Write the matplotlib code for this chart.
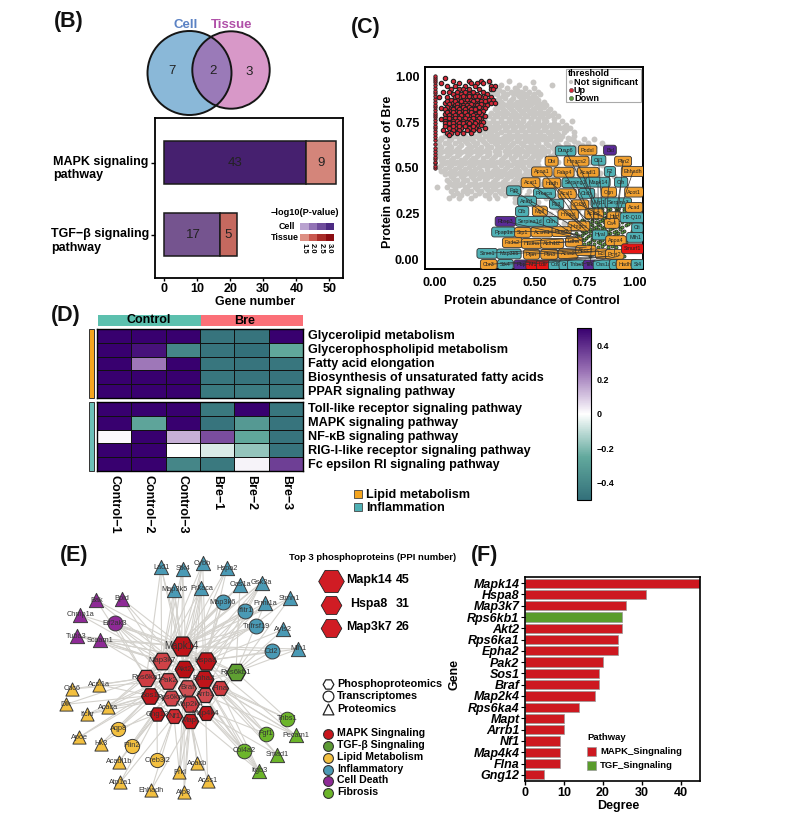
import matplotlib
matplotlib.use("Agg")
import matplotlib.pyplot as plt
from matplotlib.colors import LinearSegmentedColormap, Normalize
from matplotlib.patches import Circle, Rectangle

plt.rcParams["font.family"] = ["Liberation Sans", "DejaVu Sans"]
plt.rcParams["font.weight"] = "bold"

W, H = 807, 833

# ---- panel B
venn_labels = ["Cell", "Tissue"]
venn_counts = [7, 2, 3]
pathways = ["TGF\u2212\u03b2 signaling\npathway", "MAPK signaling\npathway"]
cell_genes = [17, 43]
tissue_genes = [5, 9]
cell_colors = ["#75548f", "#46206f"]
tissue_colors = ["#c5695f", "#d4857a"]
pval_ticks = ["1.5", "2.0", "2.5", "3.0"]
cell_key = ["#b9a2cf", "#9273b5", "#6f4d9b", "#4c2a82"]
tissue_key = ["#dd8f83", "#c9584f", "#a82c28", "#8b0d12"]

# ---- panel C
gray_rows = {
    0.975: [0.37], 0.965: [0.27, 0.49], 0.95: [0.33, 0.42, 0.59],
    0.935: [0.30, 0.36, 0.40, 0.45, 0.50], 0.915: [0.28, 0.34, 0.38, 0.43, 0.47, 0.52],
    0.90: [0.31, 0.36, 0.41, 0.46, 0.50, 0.53], 0.88: [0.32, 0.35, 0.39, 0.44, 0.48, 0.51],
    0.86: [0.33, 0.37, 0.41, 0.45, 0.50, 0.55], 0.84: [0.31, 0.36, 0.39, 0.43, 0.47, 0.52, 0.56],
    0.82: [0.30, 0.34, 0.38, 0.42, 0.45, 0.49, 0.53, 0.58], 0.80: [0.28, 0.33, 0.36, 0.40, 0.44, 0.48, 0.51, 0.55, 0.60],
    0.78: [0.27, 0.31, 0.35, 0.39, 0.42, 0.46, 0.50, 0.54, 0.57, 0.62], 0.755: [0.25, 0.29, 0.33, 0.37, 0.41, 0.44, 0.48, 0.52, 0.56, 0.64, 0.69],
    0.735: [0.26, 0.30, 0.34, 0.38, 0.42, 0.46, 0.50, 0.53, 0.58, 0.62, 0.66],
    0.715: [0.22, 0.27, 0.31, 0.35, 0.39, 0.43, 0.47, 0.51, 0.55, 0.59, 0.63, 0.68],
    0.695: [0.12, 0.18, 0.24, 0.28, 0.33, 0.37, 0.41, 0.45, 0.49, 0.53, 0.57, 0.61, 0.65, 0.70],
    0.675: [0.05, 0.10, 0.15, 0.20, 0.25, 0.29, 0.35, 0.39, 0.43, 0.47, 0.51, 0.55, 0.60, 0.64, 0.70],
    0.655: [0.03, 0.08, 0.13, 0.18, 0.23, 0.27, 0.32, 0.37, 0.41, 0.45, 0.50, 0.54, 0.58, 0.63, 0.68, 0.75, 0.80],
    0.635: [0.05, 0.10, 0.16, 0.21, 0.25, 0.30, 0.34, 0.39, 0.43, 0.48, 0.52, 0.56, 0.60, 0.66, 0.72, 0.77, 0.84],
    0.615: [0.03, 0.08, 0.12, 0.18, 0.23, 0.28, 0.33, 0.37, 0.41, 0.46, 0.50, 0.54, 0.59, 0.63, 0.70, 0.75, 0.80],
    0.595: [0.05, 0.10, 0.15, 0.20, 0.25, 0.30, 0.35, 0.39, 0.44, 0.48, 0.53, 0.57, 0.70, 0.76],
    0.575: [0.02, 0.07, 0.12, 0.17, 0.22, 0.27, 0.32, 0.37, 0.42, 0.46, 0.51, 0.55, 0.60, 0.66],
    0.555: [0.04, 0.09, 0.15, 0.19, 0.24, 0.29, 0.34, 0.38, 0.43, 0.48, 0.52, 0.68, 0.76],
    0.535: [0.06, 0.11, 0.17, 0.22, 0.26, 0.31, 0.36, 0.41, 0.45, 0.50, 0.62, 0.78],
    0.515: [0.03, 0.08, 0.13, 0.19, 0.24, 0.28, 0.33, 0.38, 0.43, 0.47, 0.52, 0.60, 0.72, 0.84],
    0.495: [0.05, 0.10, 0.15, 0.20, 0.26, 0.31, 0.35, 0.40, 0.45, 0.49, 0.56, 0.62, 0.70, 0.80],
    0.475: [0.07, 0.12, 0.17, 0.22, 0.27, 0.32, 0.37, 0.42, 0.47, 0.58, 0.72, 0.83],
    0.455: [0.08, 0.13, 0.18, 0.24, 0.28, 0.33, 0.38, 0.43, 0.48, 0.52, 0.60, 0.69, 0.78, 0.90],
    0.435: [0.06, 0.11, 0.16, 0.20, 0.25, 0.30, 0.35, 0.40, 0.44, 0.52, 0.62, 0.75, 0.86],
    0.415: [0.08, 0.13, 0.18, 0.23, 0.27, 0.32, 0.37, 0.41, 0.46, 0.54, 0.64, 0.72, 0.80, 0.92],
    0.395: [0.01, 0.06, 0.10, 0.15, 0.20, 0.25, 0.29, 0.34, 0.39, 0.43, 0.52, 0.60, 0.72, 0.84],
    0.375: [0.08, 0.14, 0.18, 0.23, 0.28, 0.32, 0.36, 0.42, 0.47, 0.58, 0.68, 0.76, 0.86],
    0.355: [0.09, 0.13, 0.20, 0.25, 0.30, 0.35, 0.41, 0.46, 0.60, 0.70, 0.80, 0.90],
    0.335: [0.07, 0.12, 0.18, 0.27, 0.31, 0.40, 0.48, 0.56, 0.64, 0.72, 0.84],
    0.315: [0.40, 0.45, 0.52, 0.62, 0.70, 0.78, 0.86],
    0.29: [0.44, 0.50, 0.60, 0.68, 0.76], 0.27: [0.55, 0.62, 0.72, 0.82],
    0.25: [0.58, 0.66, 0.76], 0.225: [0.60, 0.70], 0.20: [0.65, 0.72],
}
gray_rows_b = {
    0.925: [0.32, 0.41], 0.905: [0.30, 0.39, 0.44], 0.89: [0.34, 0.42, 0.46, 0.49],
    0.87: [0.31, 0.38, 0.43, 0.47, 0.52], 0.85: [0.34, 0.40, 0.44, 0.48, 0.53], 0.83: [0.32, 0.37, 0.41, 0.46, 0.51, 0.55],
    0.81: [0.31, 0.35, 0.39, 0.43, 0.47, 0.50, 0.53, 0.57], 0.79: [0.30, 0.34, 0.38, 0.41, 0.45, 0.49, 0.53, 0.59],
    0.768: [0.29, 0.33, 0.37, 0.40, 0.44, 0.48, 0.52, 0.55, 0.60], 0.745: [0.27, 0.31, 0.35, 0.39, 0.43, 0.47, 0.51, 0.55, 0.60],
    0.725: [0.24, 0.28, 0.32, 0.36, 0.40, 0.44, 0.49, 0.52, 0.56, 0.61, 0.65], 0.705: [0.20, 0.26, 0.30, 0.35, 0.39, 0.43, 0.47, 0.51, 0.55, 0.59, 0.66],
    0.685: [0.08, 0.14, 0.22, 0.27, 0.31, 0.37, 0.41, 0.45, 0.49, 0.53, 0.58, 0.62],
    0.665: [0.03, 0.07, 0.12, 0.17, 0.22, 0.27, 0.30, 0.34, 0.38, 0.42, 0.46, 0.49, 0.53, 0.57, 0.62, 0.67],
    0.645: [0.02, 0.07, 0.12, 0.15, 0.19, 0.24, 0.28, 0.32, 0.36, 0.41, 0.45, 0.47, 0.51, 0.56, 0.61, 0.70],
    0.625: [0.02, 0.07, 0.13, 0.17, 0.20, 0.26, 0.31, 0.35, 0.38, 0.44, 0.48, 0.52, 0.57, 0.62, 0.67, 0.74],
    0.605: [0.01, 0.06, 0.11, 0.16, 0.21, 0.26, 0.31, 0.36, 0.40, 0.43, 0.47, 0.51, 0.55, 0.60, 0.65, 0.72],
    0.585: [0.03, 0.08, 0.13, 0.18, 0.23, 0.27, 0.32, 0.37, 0.41, 0.46, 0.50, 0.55, 0.63],
    0.565: [0.02, 0.06, 0.11, 0.16, 0.21, 0.26, 0.30, 0.35, 0.40, 0.45, 0.49, 0.53, 0.58],
    0.545: [0.03, 0.08, 0.13, 0.18, 0.20, 0.24, 0.28, 0.33, 0.39, 0.43, 0.47, 0.52],
    0.525: [0.05, 0.10, 0.15, 0.20, 0.23, 0.29, 0.34, 0.36, 0.40, 0.44, 0.48],
    0.505: [0.02, 0.07, 0.12, 0.17, 0.22, 0.26, 0.30, 0.36, 0.41, 0.44, 0.50],
    0.485: [0.03, 0.08, 0.13, 0.18, 0.23, 0.29, 0.33, 0.38, 0.42, 0.47, 0.52],
    0.465: [0.05, 0.10, 0.15, 0.20, 0.25, 0.30, 0.35, 0.40, 0.45, 0.50],
    0.445: [0.09, 0.14, 0.19, 0.22, 0.26, 0.31, 0.36, 0.41, 0.46, 0.50],
    0.425: [0.07, 0.10, 0.14, 0.20, 0.25, 0.29, 0.34, 0.39, 0.43],
    0.405: [0.09, 0.12, 0.17, 0.22, 0.27, 0.31, 0.36, 0.40],
    0.385: [0.10, 0.16, 0.21, 0.26, 0.30, 0.34, 0.39],
    0.365: [0.11, 0.16, 0.22, 0.27, 0.33, 0.38],
}
red_x0_y = [0.50, 0.51, 0.525, 0.535, 0.55, 0.56, 0.575, 0.59, 0.61, 0.63, 0.65, 0.67, 0.685, 0.70, 0.715,
            0.73, 0.745, 0.76, 0.775, 0.79, 0.80, 0.815, 0.83, 0.845, 0.86, 0.875, 0.89, 0.905, 0.92,
            0.935, 0.95, 0.965, 0.98, 0.99, 1.00]
red_rows = {
    0.99: [0.05], 0.975: [0.09, 0.17, 0.23, 0.27], 0.96: [0.03, 0.12, 0.18, 0.21, 0.24],
    0.945: [0.06, 0.10, 0.15, 0.20, 0.28, 0.30], 0.93: [0.08, 0.12, 0.14, 0.17, 0.22, 0.28, 0.29],
    0.915: [0.04, 0.07, 0.11, 0.15, 0.19, 0.24], 0.90: [0.09, 0.13, 0.17, 0.21, 0.26],
    0.885: [0.02, 0.06, 0.10, 0.12, 0.15, 0.19, 0.23, 0.25, 0.28], 0.87: [0.08, 0.11, 0.14, 0.16, 0.18, 0.21, 0.27, 0.29],
    0.855: [0.05, 0.09, 0.12, 0.15, 0.17, 0.20, 0.22, 0.25, 0.28, 0.30], 0.84: [0.10, 0.13, 0.14, 0.16, 0.19, 0.21, 0.24, 0.26],
    0.825: [0.03, 0.07, 0.09, 0.12, 0.15, 0.18, 0.20, 0.23, 0.25], 0.81: [0.08, 0.10, 0.13, 0.16, 0.19, 0.21, 0.24],
    0.795: [0.05, 0.07, 0.11, 0.14, 0.17, 0.20, 0.23], 0.78: [0.09, 0.12, 0.15, 0.18, 0.21, 0.25],
    0.765: [0.03, 0.06, 0.08, 0.11, 0.14, 0.17, 0.20, 0.23], 0.75: [0.07, 0.10, 0.13, 0.16, 0.19, 0.22, 0.24],
    0.735: [0.08, 0.11, 0.15, 0.18, 0.21, 0.23], 0.72: [0.07, 0.10, 0.13, 0.17, 0.20, 0.25],
    0.705: [0.04, 0.09, 0.12, 0.16, 0.19, 0.22], 0.69: [0.06, 0.08, 0.11, 0.14, 0.18], 0.68: [0.07],
}
red_rows_b = {
    0.89: [0.11, 0.14, 0.17, 0.20, 0.22], 0.865: [0.06, 0.10, 0.13, 0.19, 0.23, 0.25], 0.848: [0.07, 0.11, 0.18, 0.23],
    0.832: [0.06, 0.11, 0.14, 0.17, 0.22], 0.818: [0.05, 0.09, 0.12, 0.15, 0.18, 0.20], 0.802: [0.06, 0.09, 0.12, 0.15, 0.18, 0.22],
    0.787: [0.07, 0.10, 0.13, 0.16, 0.19], 0.772: [0.05, 0.07, 0.10, 0.12, 0.15, 0.19, 0.22], 0.757: [0.05, 0.09, 0.11, 0.14, 0.18, 0.21],
    0.742: [0.05, 0.07, 0.09, 0.12, 0.14, 0.17, 0.20], 0.727: [0.05, 0.09, 0.12, 0.15, 0.19],
}
green_rows = {
    0.295: [0.82, 0.86, 0.90], 0.275: [0.78, 0.84, 0.88, 0.92, 0.95], 0.255: [0.80, 0.85, 0.89, 0.93, 0.97],
    0.235: [0.76, 0.82, 0.86, 0.91, 0.94], 0.22: [0.74, 0.79, 0.84, 0.88, 0.92, 0.96], 0.205: [0.73, 0.77, 0.81, 0.85, 0.90, 0.94, 0.98],
    0.19: [0.75, 0.79, 0.83, 0.87, 0.92, 0.96], 0.175: [0.72, 0.76, 0.80, 0.84, 0.89, 0.93], 0.16: [0.74, 0.78, 0.82, 0.86, 0.91, 0.95, 0.99],
    0.145: [0.71, 0.75, 0.80, 0.84, 0.88, 0.92], 0.13: [0.72, 0.77, 0.81, 0.86, 0.90, 0.94], 0.115: [0.70, 0.74, 0.79, 0.83, 0.87, 0.97],
    0.10: [0.73, 0.78, 0.82, 0.86, 0.96], 0.085: [0.71, 0.75, 0.80, 0.85, 0.89, 0.93], 0.07: [0.72, 0.77, 0.82, 0.87, 0.91],
    0.055: [0.80, 0.84, 0.88], 0.04: [0.82, 0.86, 0.90], 0.02: [0.78, 0.84, 0.90, 0.95],
}
green_rows_b = {
    0.285: [0.80, 0.83, 0.87, 0.91], 0.265: [0.77, 0.82, 0.87, 0.91, 0.95], 0.245: [0.78, 0.83, 0.87, 0.91, 0.95],
    0.228: [0.77, 0.81, 0.85, 0.89, 0.93, 0.97], 0.212: [0.75, 0.79, 0.83, 0.87, 0.91, 0.96], 0.197: [0.78, 0.82, 0.86, 0.88, 0.92, 0.97],
    0.182: [0.77, 0.81, 0.85, 0.90, 0.94], 0.168: [0.78, 0.82, 0.85, 0.88, 0.93], 0.152: [0.76, 0.80, 0.83, 0.87, 0.90, 0.94],
    0.138: [0.74, 0.78, 0.83, 0.87, 0.91], 0.122: [0.76, 0.80, 0.85, 0.89], 0.108: [0.75, 0.80, 0.84, 0.88],
    0.092: [0.77, 0.83, 0.87], 0.078: [0.78, 0.84, 0.89],
}
# label, control, bre, group (o = lipid, t = inflammation, p = cell death, r = mapk)
volcano_labels = [
    ("Dusp6", .656, .593, "t"), ("Podxl", .767, .597, "o"), ("Bid", .879, .597, "p"), ("Dbi", .586, .537, "o"),
    ("Hmgcs2", .711, .537, "o"), ("Cfl1", .822, .542, "t"), ("Plin2", .945, .537, "o"), ("Apoa1", .537, .479, "o"),
    ("Fabp4", .648, .477, "o"), ("Acadl1", .770, .477, "o"), ("F2", .879, .481, "t"), ("Ehhadh", .995, .481, "o"),
    ("Acat1", .480, .420, "o"), ("Hadh", .587, .418, "o"), ("Serping1", .705, .420, "t"), ("Mapk14", .819, .423, "t"),
    ("Cfh", .935, .423, "t"), ("Fgb", .396, .376, "t"), ("Prkaca", .550, .362, "t"), ("Acsl1", .664, .360, "o"),
    ("Ctsb", .762, .362, "t"), ("Ogn", .874, .369, "o"), ("Acot1", 1.0, .369, "o"), ("Anln1", .463, .320, "t"),
    ("F13", .611, .304, "t"), ("Cd36", .728, .300, "o"), ("Nrp1", .826, .311, "t"), ("Serpina3", .921, .311, "t"),
    ("Acad", 1.0, .286, "o"), ("Cfb", .438, .264, "t"), ("Mgll", .527, .266, "o"), ("Hmgcl", .669, .246, "o"),
    ("Acat2", .800, .251, "o"), ("Hsp", .901, .235, "o"), ("Rbsp3", .354, .210, "p"), ("Serpina1d", .480, .210, "t"),
    ("Cttn", .581, .210, "t"), ("Hmgcs", .723, .184, "o"), ("Ca4", .888, .199, "o"), ("H2-Q10", .990, .230, "t"),
    ("Cfi", 1.017, .174, "t"), ("Ppap1a", .344, .152, "t"), ("Srp1", .441, .150, "o"), ("Acsm1", .537, .152, "o"),
    ("Pecr2", .636, .154, "o"), ("Mlh1", 1.005, .123, "t"), ("Hyal", .829, .136, "t"), ("Fads2", .389, .094, "o"),
    ("Hadha", .487, .090, "o"), ("Aldh1l2", .589, .090, "o"), ("Ldha", .698, .098, "o"), ("Apoa4", .909, .105, "o"),
    ("Stmn1", .262, .036, "t"), ("Map3k5", .372, .033, "t"), ("Ptpn", .485, .031, "o"), ("Plin3", .574, .031, "o"),
    ("Acss2", .669, .033, "o"), ("Apoc1", .758, .051, "o"), ("Eci", .837, .034, "o"), ("Pcyt2", .903, .031, "o"),
    ("Smurf1", .993, .061, "r"), ("Cbr3", .270, -.024, "o"), ("Stk4", .354, -.024, "t"), ("Pbp", .433, -.027, "p"),
    ("Nf1", .490, -.027, "r"), ("Ldlr", .545, -.027, "r"), ("Cd9", .607, -.027, "t"), ("Gng", .661, -.027, "t"),
    ("Thbs1", .715, -.027, "t"), ("Tek", .779, -.027, "p"), ("Oas1a", .847, -.027, "t"), ("Cd2", .913, -.024, "t"),
    ("Hadhb", .963, -.024, "o"), ("St4", 1.018, -.024, "t"),
]
volcano_links = {
    "Fgb": (.76, .14), "Prkaca": (.78, .16), "Anln1": (.74, .10), "Mapk14": (.82, .18), "Cfh": (.90, .20),
    "Ehhadh": (.92, .24), "F2": (.86, .22), "Cfl1": (.84, .26), "Plin2": (.92, .26), "Acadl1": (.80, .22),
    "Serping1": (.80, .20), "Apoa1": (.76, .22), "Fabp4": (.78, .24), "Hmgcs2": (.82, .28), "Acat1": (.72, .20),
    "Hadh": (.74, .18), "Acsl1": (.76, .20), "Ppap1a": (.72, .16), "Stmn1": (.76, .07), "Map3k5": (.74, .06),
    "Ptpn": (.80, .06), "Plin3": (.82, .05), "Acss2": (.86, .05), "Serpina1d": (.72, .13), "Rbsp3": (.72, .12),
    "Pcyt2": (.90, .10), "Cbr3": (.80, .02), "Stk4": (.86, .02), "Pbp": (.88, .02), "Thbs1": (.92, .02),
    "Tek": (.80, .28), "Hadha": (.72, .10), "Fads2": (.70, .12), "Aldh1l2": (.74, .11), "Acsm1": (.73, .14),
    "Pecr2": (.74, .13), "Cd36": (.84, .24), "Acat2": (.88, .22), "Hmgcl": (.78, .14), "Dusp6": (.80, .30),
}

# ---- panel D
control_names = ["Control\u22121", "Control\u22122", "Control\u22123"]
bre_names = ["Bre\u22121", "Bre\u22122", "Bre\u22123"]
lipid_terms = ["Glycerolipid metabolism", "Glycerophospholipid metabolism", "Fatty acid elongation",
               "Biosynthesis of unsaturated fatty acids", "PPAR signaling pathway"]
inflam_terms = ["Toll-like receptor signaling pathway", "MAPK signaling pathway", "NF-\u03baB signaling pathway",
                "RIG-I-like receptor signaling pathway", "Fc epsilon RI signaling pathway"]
lipid_vals = [[.50, .50, .50, -.48, -.48, .50],
              [.50, .46, -.40, -.48, -.50, -.26],
              [.50, .24, .50, -.47, -.48, -.47],
              [.50, .50, .50, -.47, -.48, -.48],
              [.50, .50, .50, -.46, -.45, -.46]]
inflam_vals = [[.50, .50, .50, -.46, .50, -.47],
               [.50, -.27, .50, -.48, -.32, -.48],
               [.01, .50, .14, .33, -.26, -.48],
               [.50, .50, 0, -.06, -.17, -.48],
               [.50, .50, -.40, -.46, .02, .36]]

# ---- panel E: hubs with degree (from panel F), outer proteins by pathway
genes = ["Mapk14", "Hspa8", "Map3k7", "Rps6kb1", "Akt2", "Rps6ka1", "Epha2", "Pak2", "Sos1", "Braf",
         "Map2k4", "Rps6ka4", "Mapt", "Arrb1", "Nf1", "Map4k4", "Flna", "Gng12"]
degree = [45, 31, 26, 25, 25, 24, 24, 20, 19, 19, 18, 14, 10, 10, 9, 9, 9, 5]
gene_pathway = ["MAPK", "MAPK", "MAPK", "TGF"] + ["MAPK"] * 14
inflam_tri = ["Lad1", "Stk4", "Cybb", "Hspa2", "Map3k5", "Prkaca", "Oas1a", "Gsk3a", "Prmt1a", "Stmn1", "Ayls2", "Mlh1"]
inflam_cir = ["Map3k6", "Ifitr1", "Tnfrsf19", "Cd2"]
death_tri = ["Bak", "Bpid", "Chmp1a", "Tuba3", "Scaam1"]
death_cir = ["Eif2ak3"]
lipid_tri = ["Cdc6", "Acsl1a", "Dlk", "Acaca", "Ifckr", "Apoe", "Hk3", "Acadl1b", "Atp1a1", "Ehhadh", "Atp8", "Acss1", "Prkl", "Acacb"]
lipid_cir = ["Aqp8", "Plin2", "Creb3l2"]
fibro_tri = ["Pecam1", "Smad1", "Itgb3"]
fibro_cir = ["Thbs1", "Fgf1", "Col4a2"]

interactions = {
    "Lad1": "Mapk14 Map3k7 Akt2 Rps6ka1", "Stk4": "Mapk14 Map3k7 Pak2 Braf", "Cybb": "Mapk14 Akt2 Hspa8 Map3k7",
    "Hspa2": "Hspa8 Mapk14 Rps6ka4", "Map3k5": "Mapk14 Map3k7 Map2k4 Pak2 Akt2", "Prkaca": "Mapk14 Akt2 Braf Map3k7 Epha2 Mapt",
    "Oas1a": "Mapk14 Rps6kb1 Map3k7", "Gsk3a": "Mapk14 Akt2 Hspa8 Mapt Rps6ka1 Map2k4", "Prmt1a": "Mapk14 Hspa8 Akt2 Rps6kb1",
    "Stmn1": "Mapk14 Hspa8 Rps6kb1", "Ayls2": "Rps6kb1 Hspa8", "Mlh1": "Rps6kb1 Mapk14 Hspa8",
    "Map3k6": "Mapk14 Map3k7 Map2k4 Hspa8", "Ifitr1": "Mapk14 Akt2 Map3k7", "Tnfrsf19": "Map3k7 Mapk14 Rps6ka1", "Cd2": "Rps6kb1 Hspa8 Mapk14",
    "Bak": "Mapk14 Akt2 Rps6ka1", "Bpid": "Mapk14 Map3k7 Akt2", "Chmp1a": "Map3k7 Mapk14", "Tuba3": "Mapk14 Map3k7 Hspa8",
    "Scaam1": "Mapk14 Map3k7 Hspa8 Akt2 Pak2", "Eif2ak3": "Mapk14 Map3k7 Akt2 Rps6ka1 Pak2 Hspa8",
    "Cdc6": "Rps6ka1 Pak2", "Acsl1a": "Rps6ka1 Sos1", "Dlk": "Sos1 Rps6ka1", "Acaca": "Rps6ka1 Akt2 Rps6ka4 Sos1 Map3k7",
    "Ifckr": "Sos1 Rps6ka4 Akt2", "Apoe": "Sos1 Akt2", "Hk3": "Rps6ka4 Sos1", "Acadl1b": "Gng12 Akt2", "Atp1a1": "Nf1 Gng12",
    "Ehhadh": "Nf1 Mapt", "Atp8": "Mapt Map2k4 Akt2", "Acss1": "Mapt Map4k4", "Prkl": "Nf1 Mapt Braf Akt2", "Acacb": "Akt2 Mapt Map2k4",
    "Aqp8": "Sos1 Akt2 Gng12", "Plin2": "Gng12 Rps6ka4 Akt2", "Creb3l2": "Nf1 Gng12",
    "Pecam1": "Hspa8 Epha2 Flna Arrb1", "Smad1": "Epha2 Map4k4 Flna", "Itgb3": "Akt2 Flna Map4k4 Epha2 Rps6ka1",
    "Thbs1": "Epha2 Rps6kb1 Flna", "Fgf1": "Epha2 Map2k4 Hspa8 Flna", "Col4a2": "Akt2 Epha2 Map4k4 Map3k7 Arrb1",
    "Mapk14": "Map3k7 Hspa8 Akt2 Epha2 Pak2 Braf Rps6ka1 Rps6kb1 Sos1 Flna Map2k4", "Hspa8": "Akt2 Epha2 Braf Rps6kb1",
    "Rps6ka1": "Pak2 Akt2 Rps6ka4 Map3k7", "Rps6kb1": "Akt2 Epha2 Flna Arrb1 Map4k4 Braf", "Sos1": "Pak2 Rps6ka4 Map2k4 Nf1",
}

layout_nodes = {
    "Lad1": (363, 82), "Stk4": (428, 87), "Cybb": (488, 70), "Hspa2": (561, 84), "Map3k5": (402, 149), "Prkaca": (484, 144),
    "Oas1a": (600, 135), "Gsk3a": (665, 128), "Prmt1a": (675, 190), "Stmn1": (749, 175), "Ayls2": (730, 268), "Mlh1": (774, 327),
    "Map3k6": (548, 187), "Ifitr1": (615, 212), "Tnfrsf19": (648, 259), "Cd2": (695, 334),
    "Bak": (169, 181), "Bpid": (246, 177), "Chmp1a": (121, 225), "Tuba3": (110, 288), "Scaam1": (181, 301), "Eif2ak3": (224, 250),
    "Cdc6": (97, 447), "Acsl1a": (176, 434), "Dlk": (78, 493), "Acaca": (204, 502), "Ifckr": (141, 523), "Apoe": (117, 592),
    "Hk3": (184, 611), "Acadl1b": (237, 665), "Atp1a1": (241, 727), "Ehhadh": (334, 750), "Atp8": (432, 757), "Acss1": (503, 722),
    "Prkl": (418, 697), "Acacb": (472, 670), "Aqp8": (235, 567), "Plin2": (276, 617), "Creb3l2": (352, 660),
    "Pecam1": (767, 586), "Smad1": (711, 644), "Itgb3": (657, 693), "Thbs1": (741, 536), "Fgf1": (678, 581), "Col4a2": (612, 633),
    "Mapk14": (425, 318), "Map3k7": (365, 362), "Hspa8": (497, 362), "Akt2": (433, 388), "Epha2": (492, 416), "Rps6ka1": (319, 413),
    "Pak2": (384, 422), "Braf": (441, 443), "Flna": (539, 445), "Arrb1": (495, 465), "Sos1": (329, 467), "Rps6ka4": (394, 473),
    "Map2k4": (449, 492), "Map4k4": (497, 520), "Gng12": (351, 522), "Nf1": (402, 528), "Mapt": (451, 543), "Rps6kb1": (588, 396),
}
hub_fill = {"Mapk14": "#bf1319", "Map3k7": "#cf4247", "Hspa8": "#bf1319", "Akt2": "#b80f14", "Epha2": "#c0141a", "Rps6ka1": "#cf3c42",
            "Pak2": "#d0444a", "Braf": "#cf5054", "Flna": "#cf3a40", "Arrb1": "#d04a50", "Sos1": "#c1171d", "Rps6ka4": "#d0444a",
            "Map2k4": "#cf3c42", "Map4k4": "#c3141a", "Gng12": "#c3141a", "Nf1": "#cf2a30", "Mapt": "#c3141a", "Rps6kb1": "#5fa032"}

fig = plt.figure(figsize=(W / 100, H / 100), dpi=100)


def px_axes(left, top, right, bottom):
    return fig.add_axes([left / W, 1 - bottom / H, (right - left) / W, (bottom - top) / H])


ov = px_axes(0, 0, W, H)
ov.set_xlim(0, W)
ov.set_ylim(H, 0)
ov.axis("off")
ov.set_zorder(10)
ov.patch.set_alpha(0)

for letter, lx, ly in [("(B)", 54, 21), ("(C)", 351, 27), ("(D)", 51, 316), ("(E)", 60, 556), ("(F)", 471, 556)]:
    ov.text(lx, ly, letter, fontsize=15.5, va="center", ha="left", color="#111111")

# venn
c1 = Circle((189.5, 73), 42, fc="#8ab8d8", ec="none")
c2 = Circle((231, 70), 38.7, fc="#d898c8", ec="none")
ov.add_patch(c1)
ov.add_patch(c2)
overlap = Circle((231, 70), 38.7, fc="#9a7ab8", ec="none")
ov.add_patch(overlap)
overlap.set_clip_path(Circle((189.5, 73), 42, transform=ov.transData))
ov.add_patch(Circle((189.5, 73), 42, fc="none", ec="#151515", lw=1.4))
ov.add_patch(Circle((231, 70), 38.7, fc="none", ec="#151515", lw=1.4))
ov.text(186, 25, venn_labels[0], color="#5b82c4", fontsize=9.5, ha="center", va="center")
ov.text(232, 25, venn_labels[1], color="#b050a8", fontsize=9.5, ha="center", va="center")
for n, vx, vy in zip(venn_counts, [172, 213, 249], [71, 71, 72]):
    ov.text(vx, vy, str(n), fontsize=9.5, ha="center", va="center", fontweight="normal", color="#222222")

# B bars
ax_b = px_axes(155, 118, 343, 278)
ax_b.barh([0, 1], cell_genes, height=0.6, color=cell_colors, edgecolor="#1a1a1a", linewidth=1.1)
ax_b.barh([0, 1], tissue_genes, left=cell_genes, height=0.6, color=tissue_colors, edgecolor="#1a1a1a", linewidth=1.1)
for i in range(2):
    ax_b.text(cell_genes[i] / 2 + (0.5 if i == 0 else 0), i, str(cell_genes[i]), ha="center", va="center",
              fontsize=9.5, fontweight="normal", color="#222222")
    ax_b.text(cell_genes[i] + tissue_genes[i] / 2, i, str(tissue_genes[i]), ha="center", va="center", fontsize=9.5,
              fontweight="normal", color="#222222")
ax_b.set_xlim(-2.7, 54.1)
ax_b.set_ylim(-0.604, 1.618)
ax_b.set_yticks([0, 1])
ax_b.set_yticklabels([])
ax_b.set_xticks([0, 10, 20, 30, 40, 50])
ax_b.tick_params(axis="x", labelsize=9, length=2.5, width=1, pad=1)
ax_b.tick_params(axis="y", length=3, width=1)
for s in ax_b.spines.values():
    s.set_linewidth(1.3)
ov.text(53, 168.5, pathways[1], fontsize=9, ha="left", va="center", linespacing=1.15)
ov.text(51, 241, pathways[0], fontsize=9, ha="left", va="center", linespacing=1.15)
ov.text(255, 302, "Gene number", fontsize=9, ha="center", va="center")
ov.text(305, 212, "\u2212log10(P-value)", fontsize=6.6, ha="center", va="center")
ov.text(295, 226, "Cell", fontsize=6.4, ha="right", va="center")
ov.text(299, 237, "Tissue", fontsize=6.4, ha="right", va="center")
for k in range(4):
    ov.add_patch(Rectangle((300 + k * 8.5, 222.5), 8.5, 7, fc=cell_key[k], ec="none"))
    ov.add_patch(Rectangle((300 + k * 8.5, 233.5), 8.5, 7, fc=tissue_key[k], ec="none"))
    ov.text(304 + k * 8.5, 248, pval_ticks[k], fontsize=5.5, rotation=270, ha="center", va="center")

# C scatter
ax_c = px_axes(425, 67, 643, 269)
gx, gy = [], []
for rows in (gray_rows, gray_rows_b):
    for yy, xs in rows.items():
        gx += xs
        gy += [yy] * len(xs)
ax_c.scatter(gx, gy, s=18, color="#c9c7c4", linewidths=0, zorder=1)
ux, uy = [0] * len(red_x0_y), list(red_x0_y)
for rows in (red_rows, red_rows_b):
    for yy, xs in rows.items():
        ux += xs
        uy += [yy] * len(xs)
ax_c.scatter(ux[:len(red_x0_y)], uy[:len(red_x0_y)], s=6, color="#d62838", edgecolors="#222222", linewidths=0.6, zorder=2)
ax_c.scatter(ux[len(red_x0_y):], uy[len(red_x0_y):], s=10, color="#d62838", edgecolors="#222222", linewidths=0.8, zorder=2)
dx, dy = [], []
for rows in (green_rows, green_rows_b):
    for yy, xs in rows.items():
        dx += xs
        dy += [yy] * len(xs)
ax_c.scatter(dx, dy, s=5, color="#5fa040", edgecolors="#222222", linewidths=0.5, zorder=2)
label_fill = {"o": "#f0a030", "t": "#4fb0b4", "p": "#5a2a96", "r": "#e81414"}
for name, lxv, lyv, grp in volcano_labels:
    if name in volcano_links:
        tx, ty = volcano_links[name]
        ax_c.plot([lxv, tx], [lyv, ty], color="#333333", lw=0.5, zorder=5)
for name, lxv, lyv, grp in volcano_labels:
    ax_c.text(lxv, lyv, name, fontsize=3.9, fontweight="normal", ha="center", va="center", color="#222222", zorder=4, clip_on=True,
              bbox=dict(boxstyle="round,pad=0.45", fc=label_fill[grp], ec="#333333", lw=0.6))
ax_c.set_xlim(-0.05, 1.045)
ax_c.set_ylim(-0.049, 1.049)
ticks = [0, 0.25, 0.5, 0.75, 1]
ax_c.set_xticks(ticks)
ax_c.set_yticks(ticks)
ax_c.set_xticklabels(["0.00", "0.25", "0.50", "0.75", "1.00"])
ax_c.set_yticklabels(["0.00", "0.25", "0.50", "0.75", "1.00"])
ax_c.tick_params(axis="y", labelsize=9, length=0, pad=4)
ax_c.tick_params(axis="x", labelsize=9, length=0, pad=6)
for s in ax_c.spines.values():
    s.set_linewidth(1.4)
ov.text(532, 301, "Protein abundance of Control", fontsize=9, ha="center", va="center")
ov.text(388, 172, "Protein abundance of Bre", fontsize=9, ha="center", va="center", rotation=90)
ov.add_patch(Rectangle((566, 69), 75, 33, fc="white", ec="#aaaaaa", lw=0.8))
ov.text(568, 73.5, "threshold", fontsize=6.6, va="center", ha="left")
for name, yy, col in [("Not significant", 82, "#c9c7c4"), ("Up", 90, "#d62838"), ("Down", 98, "#5fa040")]:
    ov.scatter([571], [yy], s=9, color=col, edgecolors="#555555" if name != "Not significant" else "none", linewidths=0.4)
    ov.text(574, yy, name, fontsize=6.6, va="center", ha="left")

# D heatmap
hm_cmap = LinearSegmentedColormap.from_list("hm", ["#33707a", "#62a99d", "#ffffff", "#9a72b5", "#38006f"])
hm_norm = Normalize(vmin=-0.5, vmax=0.5)
mesh = None
for vals, terms, top, bottom, side in [(lipid_vals, lipid_terms, 329, 398, "#f5a51e"),
                                       (inflam_vals, inflam_terms, 402, 471, "#6cc0b8")]:
    ax_h = px_axes(97, top, 303, bottom)
    mesh = ax_h.pcolormesh(vals, cmap=hm_cmap, norm=hm_norm, edgecolors="#111111", linewidth=0.7)
    ax_h.set_ylim(5, 0)
    ax_h.set_xticks([])
    ax_h.set_yticks([])
    for s in ax_h.spines.values():
        s.set_linewidth(1.0)
    for i, term in enumerate(terms):
        ov.text(308, top + (bottom - top) * (i + 0.5) / 5 + 0.5, term, fontsize=9.1, va="center", ha="left")
    ov.add_patch(Rectangle((88.5, top), 5.5, bottom - top, fc=side, ec="#333333", lw=0.7))
ov.add_patch(Rectangle((98, 315), 103, 10.5, fc="#5cc0ae", ec="none"))
ov.add_patch(Rectangle((201, 315), 102, 10.5, fc="#fb7078", ec="none"))
ov.text(149, 320, "Control", fontsize=9, ha="center", va="center")
ov.text(245, 320.5, "Bre", fontsize=9, ha="center", va="center")
for i, name in enumerate(control_names + bre_names):
    ov.text(97 + 34.33 * (i + 0.5), 475, name, fontsize=9, rotation=270, ha="center", va="top")
cax = px_axes(577, 328, 591, 500)
cb = fig.colorbar(mesh, cax=cax)
cb.set_ticks([-0.4, -0.2, 0, 0.2, 0.4])
cb.set_ticklabels(["\u22120.4", "\u22120.2", "0", "0.2", "0.4"])
cb.ax.tick_params(labelsize=6.5, length=0, pad=4)
cb.outline.set_linewidth(0.8)
ov.add_patch(Rectangle((354, 490), 8, 8, fc="#f5a51e", ec="#444444", lw=0.6))
ov.add_patch(Rectangle((354, 503), 8, 8, fc="#4fb0b4", ec="#444444", lw=0.6))
ov.text(366, 494.5, "Lipid metabolism", fontsize=9.1, va="center")
ov.text(366, 507.5, "Inflammation", fontsize=9.1, va="center")

# E network
ax_e = px_axes(40, 540, 320, 820)
ax_e.set_xlim(0, 840)
ax_e.set_ylim(840, 0)
ax_e.axis("off")
ax_e.patch.set_alpha(0)
for src, targets in interactions.items():
    for tgt in targets.split():
        ax_e.plot([layout_nodes[src][0], layout_nodes[tgt][0]], [layout_nodes[src][1], layout_nodes[tgt][1]],
                  color="#d4d2cd", lw=0.8, zorder=1)


def draw_nodes(names, marker, size, fill):
    xs = [layout_nodes[n][0] for n in names]
    ys = [layout_nodes[n][1] for n in names]
    ax_e.scatter(xs, ys, marker=marker, s=size, c=fill, edgecolors="#3a3a3a", linewidths=0.7, zorder=2)
    for n, xv, yv in zip(names, xs, ys):
        ax_e.text(xv, yv, n, fontsize=5.3, fontweight="normal", color="#333333", ha="center", va="center", zorder=3)


draw_nodes(inflam_tri, "^", 105, "#4a9ab5")
draw_nodes(inflam_cir, "o", 115, "#4a9ab5")
draw_nodes(death_tri, "^", 105, "#8e2a96")
draw_nodes(death_cir, "o", 115, "#8e2a96")
draw_nodes(lipid_tri, "^", 90, "#f3c040")
draw_nodes(lipid_cir, "o", 105, "#f3c040")
draw_nodes(fibro_tri, "^", 105, "#6cb52a")
draw_nodes(fibro_cir, "o", 110, "#6cb52a")
for g, d in zip(genes, degree):
    xv, yv = layout_nodes[g]
    ax_e.scatter([xv], [yv], marker="H", s=105 + 3.2 * d, c=hub_fill[g], edgecolors="#222222", linewidths=0.9, zorder=4)
    ax_e.text(xv, yv, g, fontsize=7 if g == "Mapk14" else 5.6, fontweight="normal", color="#333333", ha="center", va="center", zorder=5)

ov.text(289, 557, "Top 3 phosphoproteins (PPI number)", fontsize=6.8, ha="left", va="center")
for (nm, deg_txt, nx), yy, sz in zip([("Mapk14", "45", 346), ("Hspa8", "31", 350), ("Map3k7", "26", 346)], [581, 605, 628], [340, 220, 220]):
    ov.scatter([331], [yy], marker="H", s=sz, c="#d01c24", edgecolors="#222222", linewidths=0.6)
    ov.text(nx, yy - 1, nm, fontsize=8.9, va="center", ha="left")
    ov.text(396, yy - 1, deg_txt, fontsize=8.9, va="center", ha="left")
for mk, nm, yy in [("H", "Phosphoproteomics", 684), ("o", "Transcriptomes", 696), ("^", "Proteomics", 709)]:
    ov.scatter([328], [yy], marker=mk, s=60, facecolors="white", edgecolors="#222222", linewidths=0.9)
    ov.text(337, yy, nm, fontsize=7.8, va="center", ha="left")
for col, nm, yy in [("#c9151c", "MAPK Singnaling", 734), ("#5c9a34", "TGF-\u03b2 Singnaling", 746), ("#f3c040", "Lipid Metabolism", 758),
                    ("#4a9ab5", "Inflammatory", 770), ("#8e2a96", "Cell Death", 781), ("#6cb52a", "Fibrosis", 793)]:
    ov.scatter([328], [yy], marker="o", s=50, c=col, edgecolors="#333333", linewidths=0.8)
    ov.text(337, yy - 1, nm, fontsize=7.6, va="center", ha="left")

# F bars
ax_f = px_axes(525, 577, 700, 781)
ypos = list(range(len(genes)))
bar_colors = ["#cd1820" if p == "MAPK" else "#5a9c2c" for p in gene_pathway]
ax_f.barh(ypos, degree, height=0.82, color=bar_colors, edgecolor="#999999", linewidth=0.5)
ax_f.set_ylim(17.55, -0.55)
ax_f.set_xlim(0, 45)
ax_f.set_yticks(ypos)
ax_f.set_yticklabels(genes, fontstyle="italic", fontsize=9)
ax_f.set_xticks([0, 10, 20, 30, 40])
ax_f.tick_params(axis="x", labelsize=9, length=3, width=1, pad=1)
ax_f.tick_params(axis="y", length=3, width=0.8, pad=1)
for s in ax_f.spines.values():
    s.set_linewidth(1.2)
ov.text(618, 806, "Degree", fontsize=9, ha="center", va="center")
ov.text(455, 675, "Gene", fontsize=9, ha="center", va="center", rotation=90)
ov.text(587, 738, "Pathway", fontsize=6.8, va="center")
ov.add_patch(Rectangle((587, 747), 9, 9, fc="#cd1820", ec="#999999", lw=0.5))
ov.add_patch(Rectangle((587, 761), 9, 9, fc="#5a9c2c", ec="#999999", lw=0.5))
ov.text(600, 752, "MAPK_Singnaling", fontsize=6.8, va="center")
ov.text(600, 765.5, "TGF_Singnaling", fontsize=6.8, va="center")

fig.savefig("out.png", dpi=100)
